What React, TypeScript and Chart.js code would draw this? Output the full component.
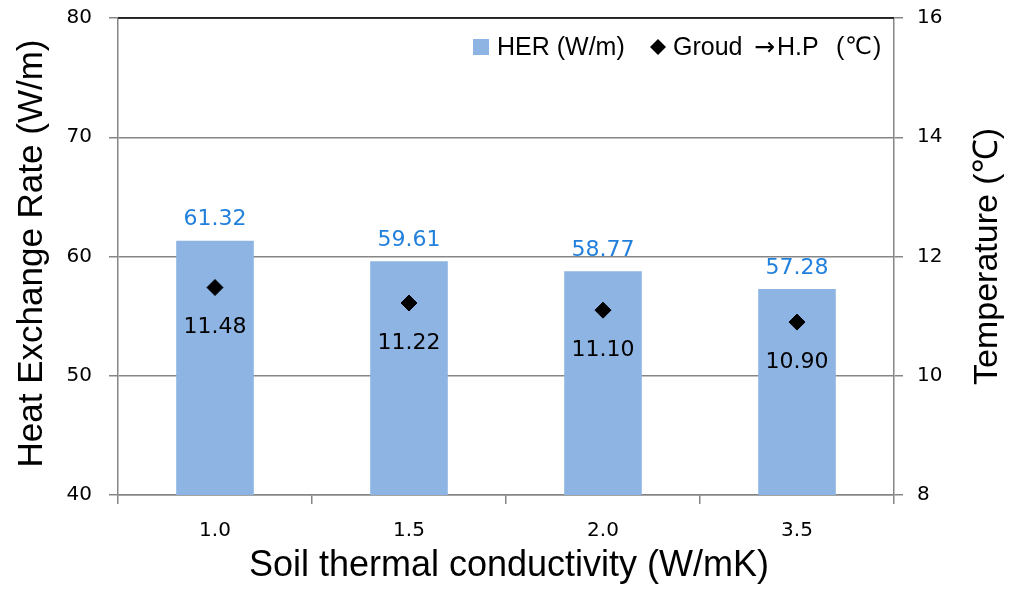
import { useEffect, useRef } from 'react'
import { Chart, registerables } from 'chart.js'

Chart.register(...registerables)

const categories = ['1.0', '1.5', '2.0', '3.5']
const herValues = [61.32, 59.61, 58.77, 57.28]
const tempValues = [11.48, 11.22, 11.10, 10.90]

const TEXT_FONT = '"Liberation Sans", Arial, sans-serif'
const NUM_FONT = '"DejaVu Sans", Verdana, sans-serif'
const BAR_COLOR = '#8eb4e3'
const AXIS_GRAY = '#868686'

const labelsPlugin = {
  id: 'valueLabels',
  afterDraw(chart: any) {
    const ctx = chart.ctx
    const a = chart.chartArea
    ctx.save()
    ctx.textAlign = 'center'
    ctx.textBaseline = 'middle'

    // value labels
    ctx.font = `22px ${NUM_FONT}`
    const bars = chart.getDatasetMeta(0).data
    bars.forEach((bar: any, i: number) => {
      ctx.fillStyle = '#2180dc'
      ctx.fillText(herValues[i].toFixed(2), bar.x, bar.y - 21)
    })
    const pts = chart.getDatasetMeta(1).data
    pts.forEach((p: any, i: number) => {
      ctx.fillStyle = '#000'
      ctx.fillText(tempValues[i].toFixed(2), p.x, p.y + 40)
    })

    // top border of plot area
    ctx.strokeStyle = '#000'
    ctx.lineWidth = 1.5
    ctx.beginPath()
    ctx.moveTo(a.left, a.top)
    ctx.lineTo(a.right, a.top)
    ctx.stroke()

    // axis titles
    ctx.fillStyle = '#000'
    ctx.font = `35px ${TEXT_FONT}`
    const midY = (a.top + a.bottom) / 2
    ctx.save()
    ctx.translate(32, midY - 3)
    ctx.rotate(-Math.PI / 2)
    ctx.fillText('Heat Exchange Rate (W/m)', 0, 0)
    ctx.restore()
    ctx.font = `34px ${TEXT_FONT}`
    ctx.save()
    ctx.translate(988, midY)
    ctx.rotate(-Math.PI / 2)
    ctx.fillText('Temperature (\u2103)', 0, 0)
    ctx.restore()
    ctx.font = `36px ${TEXT_FONT}`
    ctx.fillText('Soil thermal conductivity (W/mK)', 509, 566)

    // legend
    ctx.textAlign = 'left'
    ctx.font = `25px ${TEXT_FONT}`
    ctx.fillStyle = BAR_COLOR
    ctx.fillRect(473, 39, 16, 16)
    ctx.fillStyle = '#000'
    ctx.fillText('HER (W/m)', 497, 48)
    ctx.beginPath()
    ctx.moveTo(658, 39)
    ctx.lineTo(666, 47)
    ctx.lineTo(658, 55)
    ctx.lineTo(650, 47)
    ctx.closePath()
    ctx.fill()
    ctx.fillText('Groud', 673, 48)
    ctx.font = `25px ${NUM_FONT}`
    ctx.fillText('\u2192', 754, 48)
    ctx.font = `25px ${TEXT_FONT}`
    ctx.fillText('H.P', 777, 48)
    ctx.fillText('(', 836, 48)
    ctx.font = `24px ${NUM_FONT}`
    ctx.fillText('\u2103', 845, 48)
    ctx.font = `25px ${TEXT_FONT}`
    ctx.fillText(')', 873, 48)
    ctx.restore()
  },
}

export default function App() {
  const chartRef = useRef<HTMLCanvasElement>(null)
  const chartInstance = useRef<Chart | null>(null)

  useEffect(() => {
    document.body.style.margin = '0'
    if (!chartRef.current) return
    const ctx = chartRef.current.getContext('2d')
    if (!ctx) return
    if (chartInstance.current) chartInstance.current.destroy()

    chartInstance.current = new Chart(ctx, {
      type: 'bar',
      data: {
        labels: categories,
        datasets: [
          {
            type: 'bar',
            label: 'HER (W/m)',
            data: herValues,
            backgroundColor: BAR_COLOR,
            barPercentage: 0.4,
            categoryPercentage: 1,
            yAxisID: 'y',
            order: 2,
          },
          {
            type: 'line',
            label: 'Groud →H.P (℃)',
            data: tempValues,
            showLine: false,
            pointStyle: 'rectRot',
            pointRadius: 8,
            backgroundColor: '#000',
            borderColor: '#000',
            yAxisID: 'y1',
            order: 1,
          } as any,
        ],
      },
      options: {
        responsive: false,
        animation: false,
        layout: { padding: { top: 18, left: 0, right: 0, bottom: 0 } },
        plugins: {
          legend: { display: false },
          tooltip: { enabled: false },
        },
        scales: {
          x: {
            offset: true,
            grid: {
              offset: true,
              drawOnChartArea: false,
              tickLength: 9,
              color: AXIS_GRAY,
              lineWidth: 1.5,
            },
            border: { color: AXIS_GRAY, width: 1.5 },
            ticks: { color: '#000', font: { family: NUM_FONT, size: 20 }, padding: 15 },
            afterFit(scale: any) {
              scale.height = 103
              scale.paddingLeft = 0
              scale.paddingRight = 0
            },
          },
          y: {
            position: 'left',
            min: 40,
            max: 80,
            ticks: { stepSize: 10, color: '#000', font: { family: NUM_FONT, size: 20 }, padding: 17 },
            grid: { color: AXIS_GRAY, lineWidth: 1.5, tickLength: 9 },
            border: { color: AXIS_GRAY, width: 1.5 },
            afterFit(scale: any) {
              scale.width = 118
              scale.paddingTop = 0
              scale.paddingBottom = 0
            },
          },
          y1: {
            position: 'right',
            min: 8,
            max: 16,
            ticks: { stepSize: 2, color: '#000', font: { family: NUM_FONT, size: 20 }, padding: 14 },
            grid: { drawOnChartArea: false, color: AXIS_GRAY, lineWidth: 1.5, tickLength: 9 },
            border: { color: AXIS_GRAY, width: 1.5 },
            afterFit(scale: any) {
              scale.width = 130
              scale.paddingTop = 0
              scale.paddingBottom = 0
            },
          },
        },
      },
      plugins: [labelsPlugin],
    })

    return () => {
      if (chartInstance.current) {
        chartInstance.current.destroy()
        chartInstance.current = null
      }
    }
  }, [])

  return (
    <div style={{ width: 1024, height: 598, background: '#fff' }}>
      <canvas ref={chartRef} width={1024} height={598}></canvas>
    </div>
  )
}
